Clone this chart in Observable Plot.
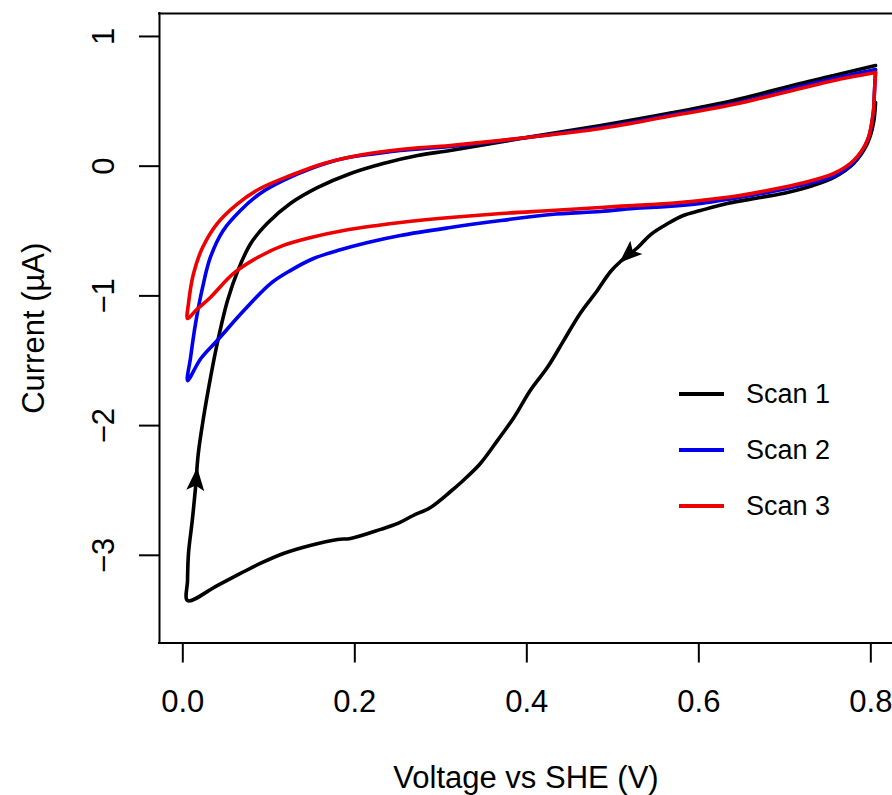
<!DOCTYPE html>
<html>
<head>
<meta charset="utf-8">
<script src="https://cdn.jsdelivr.net/npm/d3@7"></script>
<script src="https://cdn.jsdelivr.net/npm/@observablehq/plot@0.6"></script>
<style>
  html, body { margin: 0; padding: 0; background: #fff; overflow: hidden; }
  #wrap { position: relative; width: 892px; height: 795px; font-family: "Liberation Sans", Arial, sans-serif; }
  #legend { position: absolute; left: 679px; top: 366px; }
  .row { display: flex; align-items: center; height: 56px; }
  .sw { width: 45px; height: 4px; margin-right: 22px; }
  .lab { font-size: 27px; line-height: 1; color: #000; }
</style>
</head>
<body>
<div id="wrap"></div>
<script>
// Scan 1 (black): [voltage V, current µA]
const scan1 = [
  [0.8055,0.491],[0.803,0.329],[0.796,0.175],[0.780,0.021],[0.757,-0.087],[0.733,-0.149],
  [0.703,-0.203],[0.672,-0.241],[0.633,-0.288],[0.602,-0.342],[0.582,-0.380],[0.564,-0.442],
  [0.544,-0.527],[0.529,-0.627],[0.5089,-0.735],[0.4974,-0.812],[0.482,-0.958],[0.462,-1.135],
  [0.443,-1.343],[0.424,-1.551],[0.404,-1.729],[0.385,-1.937],[0.366,-2.114],[0.346,-2.292],
  [0.326,-2.423],[0.311,-2.510],[0.288,-2.631],[0.268,-2.693],[0.250,-2.754],[0.230,-2.800],
  [0.195,-2.870],[0.180,-2.878],[0.148,-2.924],[0.117,-2.986],[0.090,-3.063],[0.067,-3.140],
  [0.040,-3.233],[0.0055,-3.349],
  [0.0055,-3.195],[0.0066,-2.986],[0.011,-2.732],[0.0148,-2.477],[0.018,-2.215],[0.0241,-1.938],
  [0.032,-1.638],[0.040,-1.368],[0.052,-1.036],[0.064,-0.805],[0.079,-0.596],
  [0.098,-0.442],[0.125,-0.288],[0.157,-0.164],[0.195,-0.056],[0.233,0.021],[0.273,0.083],
  [0.311,0.121],[0.400,0.221],[0.486,0.314],[0.564,0.406],[0.640,0.507],[0.718,0.638],
  [0.757,0.699],[0.8055,0.776]
];
// Scan 2 (blue)
const scan2 = [
  [0.8055,0.738],[0.804,0.545],[0.803,0.414],[0.797,0.214],[0.782,0.044],[0.759,-0.072],
  [0.718,-0.149],[0.680,-0.203],[0.640,-0.249],[0.602,-0.288],[0.564,-0.311],[0.524,-0.326],
  [0.486,-0.349],[0.428,-0.372],[0.370,-0.419],[0.311,-0.473],[0.253,-0.534],[0.215,-0.588],
  [0.180,-0.650],[0.152,-0.712],[0.125,-0.805],[0.102,-0.905],[0.071,-1.113],[0.040,-1.344],
  [0.021,-1.483],[0.0055,-1.653],
  [0.009,-1.476],[0.0148,-1.214],[0.023,-0.935],[0.032,-0.704],[0.047,-0.496],[0.067,-0.342],
  [0.090,-0.210],[0.117,-0.110],[0.149,-0.018],[0.187,0.059],[0.226,0.098],[0.253,0.121],
  [0.311,0.152],[0.400,0.221],[0.486,0.298],[0.564,0.390],[0.640,0.483],[0.718,0.614],
  [0.757,0.676],[0.8055,0.745]
];
// Scan 3 (red)
const scan3 = [
  [0.8055,0.722],[0.804,0.545],[0.803,0.429],[0.796,0.198],[0.780,0.044],[0.757,-0.056],
  [0.718,-0.134],[0.680,-0.187],[0.640,-0.234],[0.602,-0.264],[0.564,-0.288],[0.524,-0.303],
  [0.486,-0.318],[0.428,-0.342],[0.370,-0.365],[0.311,-0.396],[0.253,-0.434],[0.226,-0.457],
  [0.187,-0.496],[0.149,-0.550],[0.117,-0.611],[0.087,-0.704],[0.059,-0.827],[0.032,-1.012],
  [0.015,-1.113],[0.0055,-1.175],
  [0.0066,-1.059],[0.0125,-0.827],[0.023,-0.627],[0.040,-0.442],[0.064,-0.288],[0.090,-0.172],
  [0.125,-0.072],[0.164,0.021],[0.210,0.090],[0.253,0.129],[0.311,0.160],[0.400,0.221],
  [0.486,0.291],[0.564,0.383],[0.640,0.475],[0.718,0.599],[0.757,0.661],[0.8055,0.722]
];
// direction arrows on scan 1: from -> tip
const arrows = [
  {from: [0.0148,-2.477], to: [0.0167,-2.323]},
  {from: [0.544,-0.527], to: [0.5075,-0.745]}
];
const seriesNames = ["Scan 1", "Scan 2", "Scan 3"];
const seriesColors = ["#000000", "#0000ee", "#ee0000"];
const xTicks = [0, 0.2, 0.4, 0.6, 0.8];
const yTicks = [-3, -2, -1, 0, 1];
const xDomain = [-0.0271, 0.8252];
const yDomain = [-3.676, 1.177];

const W = 892, H = 795, mL = 159, mR = 0, mT = 13, mB = 152.5;
const sx = d3.scaleLinear(xDomain, [mL, W - mR]);
const sy = d3.scaleLinear(yDomain, [H - mB, mT]);
const angle = a => {
  const dx = sx(a.to[0]) - sx(a.from[0]);
  const dy = sy(a.to[1]) - sy(a.from[1]);
  return Math.atan2(dx, -dy) * 180 / Math.PI;
};
const arrowHead = {
  draw(ctx) {
    ctx.moveTo(0, 0);
    ctx.lineTo(9, 23);
    ctx.lineTo(0, 18);
    ctx.lineTo(-9, 23);
    ctx.closePath();
  }
};

const scans = [scan1, scan2, scan3];
const font = "'Liberation Sans', Arial, sans-serif";

const plot = Plot.plot({
  width: W, height: H,
  marginLeft: mL, marginRight: mR, marginTop: mT, marginBottom: mB,
  style: {fontFamily: font, color: "#000", background: "#fff", overflow: "visible"},
  x: {domain: xDomain},
  y: {domain: yDomain},
  marks: [
    Plot.ruleX([xDomain[0]], {stroke: "#000", strokeWidth: 2, strokeLinecap: "square"}),
    Plot.ruleY([yDomain[0], yDomain[1]], {stroke: "#000", strokeWidth: 2, strokeLinecap: "square"}),
    Plot.axisX({ticks: xTicks, tickFormat: d3.format(".1f"), tickSize: 20, tickPadding: 27,
      fontSize: 31, strokeWidth: 2, label: null}),
    Plot.axisY({ticks: yTicks, tickFormat: d3.format("d"), tickSize: 20, tickPadding: 26, tickRotate: -90,
      textAnchor: "middle", lineAnchor: "bottom", fontSize: 31, strokeWidth: 2, label: null}),
    ...scans.map((s, k) => Plot.line(s, {x: d => d[0], y: d => d[1], stroke: seriesColors[k],
      curve: "catmull-rom", strokeWidth: 3.6, strokeLinejoin: "round", strokeLinecap: "round"})),
    Plot.dot(arrows, {x: d => d.to[0], y: d => d.to[1], symbol: arrowHead, fill: "#000",
      stroke: "none", rotate: angle}),
    Plot.text(["Voltage vs SHE (V)"], {frameAnchor: "bottom", text: d => d, dy: 144.5,
      lineAnchor: "bottom", textAnchor: "middle", fontSize: 31}),
    Plot.text(["Current (\u00b5A)"], {frameAnchor: "left", text: d => d, dx: -116, rotate: -90,
      lineAnchor: "bottom", textAnchor: "middle", fontSize: 31})
  ]
});

const wrap = document.getElementById("wrap");
wrap.appendChild(plot);
const legend = document.createElement("div");
legend.id = "legend";
seriesNames.forEach((n, k) => {
  const row = document.createElement("div");
  row.className = "row";
  const sw = document.createElement("div");
  sw.className = "sw";
  sw.style.background = seriesColors[k];
  const lab = document.createElement("span");
  lab.className = "lab";
  lab.textContent = n;
  row.appendChild(sw); row.appendChild(lab);
  legend.appendChild(row);
});
wrap.appendChild(legend);
</script>
</body>
</html>
